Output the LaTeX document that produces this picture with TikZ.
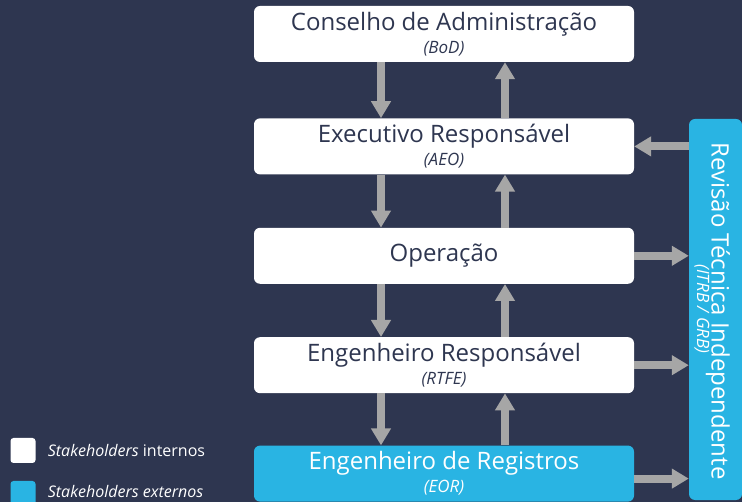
\documentclass[tikz,border=0pt]{standalone}
\usepackage{fontspec}
\setmainfont{Open Sans}
\usetikzlibrary{arrows.meta, positioning}

\definecolor{navy}{HTML}{2E3650}
\definecolor{cyanbox}{HTML}{29B4E3}
\definecolor{arrowgray}{HTML}{A6A6A6}

\tikzset{
  stake/.style={rounded corners=6pt, minimum width=380pt, minimum height=56pt,
    inner sep=0pt, align=center, font=\fontsize{24}{26}\selectfont},
  internal/.style={stake, fill=white, text=navy},
  external/.style={stake, fill=cyanbox, text=white},
  flow/.style={arrowgray, line width=8pt, -{Triangle[width=19pt,length=17pt]}},
  legendsq/.style={rounded corners=3pt, minimum size=25pt, inner sep=0pt},
  legendtxt/.style={text=white, font=\fontsize{16}{18}\selectfont, anchor=west, inner sep=0pt},
}
\newcommand{\acr}[1]{{\fontsize{17}{14}\selectfont\itshape #1}}

\begin{document}
\begin{tikzpicture}[x=1pt, y=-1pt]
  \fill[navy] (0,0) rectangle (742,502);
  \useasboundingbox (0,0) rectangle (742,502);

  % chain of internal stakeholders
  \node[internal] (bod) at (444,34) {Conselho de Administração\\[-3pt]\acr{(BoD)}};
  \node[internal, below=56pt of bod] (aeo) {Executivo Responsável\\[-3pt]\acr{(AEO)}};
  \node[internal, below=53pt of aeo] (ope) {Operação};
  \node[internal, below=53pt of ope] (rtfe) {Engenheiro Responsável\\[-3pt]\acr{(RTFE)}};
  \node[external, below=52pt of rtfe] (eor) {Engenheiro de Registros\\[-3pt]\acr{(EOR)}};

  % independent review
  \node[fill=cyanbox, rounded corners=6pt, minimum width=53pt, minimum height=381pt,
    inner sep=0pt] (itrb) at (715.5,309.5) {};
  \node[rotate=-90, text=white, font=\fontsize{24}{26}\selectfont] (itrb-title)
    at (718,311) {Revisão Técnica Independente};
  \node[rotate=-90, text=white, font=\fontsize{17}{19}\selectfont\itshape] (itrb-sub)
    at (702,309) {(ITRB / GRB)};

  % down and up
  \foreach \a/\b in {bod/aeo, aeo/ope, ope/rtfe, rtfe/eor} {
    \draw[flow] ([xshift=-63pt]\a.south) -- ([xshift=-63pt]\b.north);
    \draw[flow] ([xshift=61pt]\b.north) -- ([xshift=61pt]\a.south);
  }

  % review links
  \draw[flow] (itrb.west |- aeo.east) -- (aeo.east);
  \draw[flow] (ope.east) -- (ope.east -| itrb.west);
  \draw[flow] (rtfe.east) -- (rtfe.east -| itrb.west);
  \draw[flow] ([yshift=-5pt]eor.east) -- ([yshift=-5pt]eor.east -| itrb.west);

  % legend
  \node[legendsq, fill=white] (leg-int) at (23,450.5) {};
  \node[legendtxt, right=12pt of leg-int] (leg-int-txt) {\textit{Stakeholders} internos};
  \node[legendsq, fill=cyanbox] (leg-ext) at (23,493.5) {};
  \node[legendtxt, right=12pt of leg-ext, yshift=2.5pt] (leg-ext-txt) {\textit{Stakeholders externos}};
\end{tikzpicture}
\end{document}
